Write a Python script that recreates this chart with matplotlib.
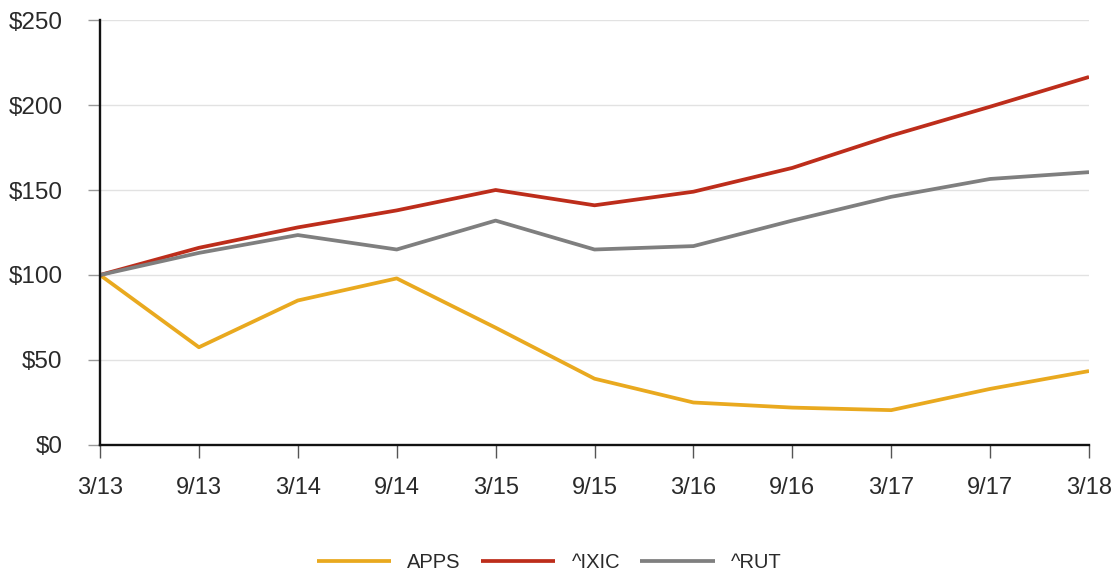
import matplotlib.pyplot as plt
from matplotlib.ticker import FuncFormatter

plt.rcParams['font.family'] = ['Liberation Sans', 'DejaVu Sans']

# 기간 라벨
periods = ['3/13', '9/13', '3/14', '9/14', '3/15', '9/15',
           '3/16', '9/16', '3/17', '9/17', '3/18']

# 누적 수익 (100달러 기준)
apps = [100, 57.5, 85, 98, 69, 39, 25, 22, 20.5, 33, 43.5]
ixic = [100, 116, 128, 138, 150, 141, 149, 163, 182, 199, 216.5]
rut = [100, 113, 123.5, 115, 132, 115, 117, 132, 146, 156.5, 160.5]

fig = plt.figure(figsize=(11.15, 5.75), dpi=100)
ax = fig.add_axes([0.0897, 0.2261, 0.887, 0.7391])

x = range(len(periods))
ax.plot(x, apps, color='#E9A91F', lw=2.7, label='APPS', solid_capstyle='butt')
ax.plot(x, ixic, color='#BD2D1B', lw=2.7, label='^IXIC', solid_capstyle='butt')
ax.plot(x, rut, color='#7F7F7F', lw=2.7, label='^RUT', solid_capstyle='butt')

ax.set_xlim(0, len(periods) - 1)
ax.set_ylim(0, 250)
ax.set_yticks(range(0, 251, 50))
ax.yaxis.set_major_formatter(FuncFormatter(lambda v, p: '$%d' % v))
ax.set_xticks(list(x))
ax.set_xticklabels(periods)

ax.grid(axis='y', color='#E2E2E2', lw=1)
ax.set_axisbelow(True)

for s in ['top', 'right']:
    ax.spines[s].set_visible(False)
for s in ['left', 'bottom']:
    ax.spines[s].set_linewidth(1.7)
    ax.spines[s].set_color('#111111')

ax.tick_params(axis='y', length=9, width=1, color='#999999', pad=18,
               labelsize=17.5, labelcolor='#2a2a2a')
ax.tick_params(axis='x', length=9, width=1, color='#555555', pad=14,
               labelsize=17, labelcolor='#2a2a2a')

leg = fig.legend(loc='center', bbox_to_anchor=(0.4925, 0.022), ncol=3,
                 frameon=False, fontsize=14.5, handlelength=3.7,
                 handletextpad=0.8, columnspacing=1.0)
for t in leg.get_texts():
    t.set_color('#2a2a2a')

fig.savefig('out.png', dpi=100)
